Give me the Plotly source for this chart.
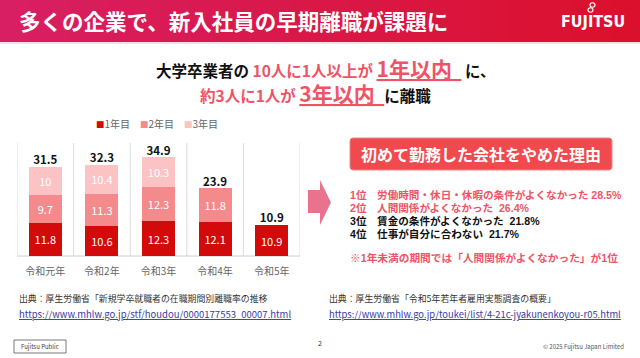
import plotly.graph_objects as go

# ---------------- data ----------------
categories = ["令和元年", "令和2年", "令和3年", "令和4年", "令和5年"]
year1 = [11.8, 10.6, 12.3, 12.1, 10.9]
year2 = [9.7, 11.3, 12.3, 11.8, None]
year3 = [10.0, 10.4, 10.3, None, None]
series_names = ["1年目", "2年目", "3年目"]
series_colors = ["#d20a0a", "#f48a8c", "#fbc3c4"]
totals = [round(sum(v for v in vals if v is not None), 1) for vals in zip(year1, year2, year3)]

reasons = [
    ("1位", "労働時間・休日・休暇の条件がよくなかった 28.5%", True),
    ("2位", "人間関係がよくなかった  26.4%", True),
    ("3位", "賃金の条件がよくなかった  21.8%", False),
    ("4位", "仕事が自分に合わない  21.7%", False),
]

W, H = 640, 358
FONT = "Noto Sans CJK JP"
MIXFONT = "Liberation Sans, Noto Sans CJK JP"
PINK = "#ef5466"

def py(px):
    return 1 - px / H

def pxx(px):
    return px / W

fig = go.Figure()
for name, vals, col in zip(series_names, [year1, year2, year3], series_colors):
    fig.add_trace(go.Bar(
        x=categories, y=vals, name=name, marker=dict(color=col, line=dict(width=0)),
        width=0.58, text=[("" if v is None else (f"{v:g}")) for v in vals],
        textposition="inside", insidetextanchor="middle", textangle=0,
        textfont=dict(color="white", size=11, family=FONT),
        hoverinfo="skip", showlegend=False,
    ))

fig.add_trace(go.Scatter(
    x=categories, y=totals, mode="text", text=[f"<b>{t:g}</b>" for t in totals],
    textposition="top center", textfont=dict(color="#111", size=11.5, family=FONT),
    showlegend=False, hoverinfo="skip", cliponaxis=False,
))

shapes = []
# banner gradient
n = 64
c0 = (0xd8, 0x1f, 0x63)
c1 = (0xdb, 0x10, 0x2c)
for i in range(n):
    t = i / (n - 1)
    c = tuple(int(round(a + (b - a) * t)) for a, b in zip(c0, c1))
    shapes.append(dict(type="rect", xref="paper", yref="paper",
                       x0=i / n, x1=(i + 1) / n + 0.002, y0=py(42), y1=1,
                       fillcolor="rgb(%d,%d,%d)" % c, line=dict(width=0), layer="below"))
shapes.append(dict(type="line", xref="paper", yref="paper", x0=0, x1=1, y0=py(43), y1=py(43),
                   line=dict(color="#f6d6de", width=1.5)))
# logo loops
for cx, cy in [(592.5, 5), (590.5, 10)]:
    shapes.append(dict(type="circle", xref="paper", yref="paper",
                       x0=pxx(cx - 2.5), x1=pxx(cx + 2.5), y0=py(cy + 2.2), y1=py(cy - 2.2),
                       line=dict(color="white", width=1.1)))

# category separators
for k in range(len(categories) + 1):
    shapes.append(dict(type="line", xref="x", yref="paper", x0=k - 0.5, x1=k - 0.5,
                       y0=py(256), y1=py(143), line=dict(color="#dcdcdc", width=1), layer="below"))
shapes.append(dict(type="line", xref="paper", yref="paper", x0=pxx(17), x1=pxx(300),
                   y0=py(256), y1=py(256), line=dict(color="#d0d0d0", width=1), layer="below"))

# arrow
ax0, ax1, ax2 = 308, 320, 331
ay_top, ay_bot, by_top, by_bot, ay_mid = 180, 225, 190, 213, 202.5
path = (f"M {pxx(ax0)},{py(by_top)} L {pxx(ax1)},{py(by_top)} L {pxx(ax1)},{py(ay_top)} "
        f"L {pxx(ax2)},{py(ay_mid)} L {pxx(ax1)},{py(ay_bot)} L {pxx(ax1)},{py(by_bot)} "
        f"L {pxx(ax0)},{py(by_bot)} Z")
shapes.append(dict(type="path", xref="paper", yref="paper", path=path,
                   fillcolor="#e9728c", line=dict(width=0)))

# red title box (rounded)
bx0, bx1, by0, by1, r = 350, 612, 138, 170, 3
rx = r / W
ry = r / H
p = (f"M {pxx(bx0)+rx},{py(by0)} L {pxx(bx1)-rx},{py(by0)} Q {pxx(bx1)},{py(by0)} {pxx(bx1)},{py(by0)-ry} "
     f"L {pxx(bx1)},{py(by1)+ry} Q {pxx(bx1)},{py(by1)} {pxx(bx1)-rx},{py(by1)} "
     f"L {pxx(bx0)+rx},{py(by1)} Q {pxx(bx0)},{py(by1)} {pxx(bx0)},{py(by1)+ry} "
     f"L {pxx(bx0)},{py(by0)-ry} Q {pxx(bx0)},{py(by0)} {pxx(bx0)+rx},{py(by0)} Z")
shapes.append(dict(type="path", xref="paper", yref="paper", path=p,
                   fillcolor="#f04a4e", line=dict(color="#e8888a", width=1)))

# Fujitsu Public box
shapes.append(dict(type="rect", xref="paper", yref="paper", x0=pxx(14), x1=pxx(66),
                   y0=py(353), y1=py(340), line=dict(color="#555", width=0.8)))

ann = []
def A(x, y, text, size, color="#222", xanchor="left", bold=False, family=FONT, **kw):
    if bold:
        text = f"<b>{text}</b>"
    ann.append(dict(x=pxx(x), y=py(y), xref="paper", yref="paper", text=text, showarrow=False,
                    xanchor=xanchor, yanchor="middle", borderpad=0,
                    font=dict(size=size, color=color, family=family), **kw))

A(18, 21, "多くの企業で、新入社員の早期離職が課題に", 21.5, "white", bold=True)
A(593, 21.5, "FUJITSU", 16, "white", xanchor="center", bold=True,
  family="DejaVu Sans Condensed, Liberation Sans Narrow, Liberation Sans, Arial")

# custom legend
legend_x = [95, 139, 183]
for name, col, lx in zip(series_names, series_colors, legend_x):
    A(lx, 124, f"<span style='color:{col};font-size:8.5px'>■</span>{name}", 10, "#666")

pk = f"color:{PINK}"
line1 = (f"<b>大学卒業者の <span style='{pk}'>10人に1人以上が </span>"
         f"<span style='{pk};font-size:21px'><u>1年以内  </u></span> に、</b>")
line2 = (f"<b><span style='{pk}'>約3人に1人が </span>"
         f"<span style='{pk};font-size:21px'><u>3年以内  </u></span>に離職</b>")
A(326, 68, line1, 15.5, "#111", xanchor="center")
A(315, 93, line2, 15.5, "#111", xanchor="center")

A(481, 154, "初めて勤務した会社をやめた理由", 16, "white", xanchor="center", bold=True)

ys = [195, 208, 221, 234]
for (rank, txt, pinkc), yv in zip(reasons, ys):
    col = PINK if pinkc else "#111"
    A(349, yv, f"{rank}　{txt}", 10.6, col, bold=True, family=MIXFONT)
A(349, 258, "※1年未満の期間では「人間関係がよくなかった」が1位", 10.7, PINK, bold=True, family=MIXFONT)

A(18, 298, "出典：厚生労働省「新規学卒就職者の在職期間別離職率の推移", 8.9, "#333")
A(18, 314, "<u>https://www.mhlw.go.jp/stf/houdou/0000177553_00007.html</u>", 9.5, "#3a3aa8")
A(328, 298, "出典：厚生労働省「令和5年若年者雇用実態調査の概要」", 8.9, "#333")
A(328, 314, "<u>https://www.mhlw.go.jp/toukei/list/4-21c-jyakunenkoyou-r05.html</u>", 9.4, "#3a3aa8")

A(40, 346.5, "Fujitsu Public", 6, "#444", xanchor="center")
A(320, 343, "2", 7, "#333", xanchor="center")
A(625, 346.5, "© 2025 Fujitsu Japan Limited", 6, "#555", xanchor="right")

fig.update_layout(
    width=W, height=H, margin=dict(l=0, r=0, t=0, b=0),
    paper_bgcolor="white", plot_bgcolor="white",
    barmode="stack", bargap=0.42,
    shapes=shapes, annotations=ann,
    showlegend=False,
    xaxis=dict(domain=[pxx(17), pxx(300)], range=[-0.5, 4.5], showgrid=False, zeroline=False,
               showline=False, ticks="", tickfont=dict(size=10, color="#666", family=FONT),
               ticklabelstandoff=8, fixedrange=True),
    yaxis=dict(domain=[py(256), py(143)], range=[0, 40], visible=False, fixedrange=True),
    font=dict(family=FONT),
)

fig.write_html("out.html", config={"displayModeBar": False},
               post_script="document.body.style.margin='0';document.body.style.overflow='hidden';")
